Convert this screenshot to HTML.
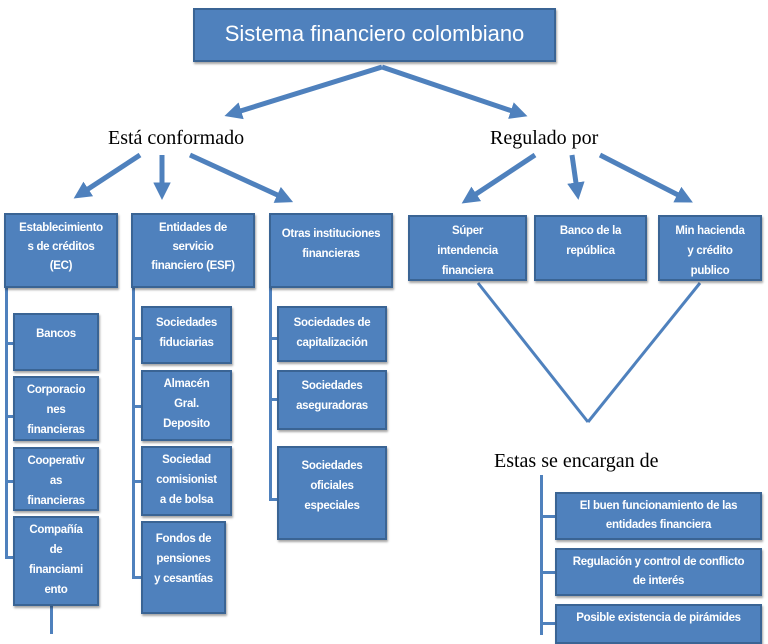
<!DOCTYPE html>
<html><head><meta charset="utf-8"><style>
body{margin:0;width:768px;height:630px;background:#fff;position:relative;overflow:hidden;font-family:"Liberation Sans",sans-serif}
.b{position:absolute;background:#4f81bd;border:2px solid #3a6494;box-sizing:border-box;color:#fff;text-align:center;font-size:11.5px;font-weight:bold;line-height:19px;padding-top:4px;box-shadow:1px 2px 2px rgba(0,0,0,.35);white-space:nowrap;overflow:hidden;letter-spacing:-0.3px}
.t{position:absolute;font-family:"Liberation Serif",serif;font-size:20px;color:#000}
.l{position:absolute;background:#4f81bd}
svg{position:absolute;left:0;top:0}
</style></head><body>
<svg width="768" height="630">
<defs><marker id="a" markerWidth="3.5" markerHeight="3.5" refX="1.5" refY="1.75" orient="auto"><path d="M0,0 L3.5,1.75 L0,3.5 Z" fill="#4f81bd"/></marker></defs>
<g stroke="#4f81bd" stroke-width="5" fill="none" marker-end="url(#a)">
<line x1="382" y1="67" x2="234" y2="113"/>
<line x1="382" y1="67" x2="518" y2="113"/>
<line x1="140" y1="155" x2="82" y2="193"/>
<line x1="162" y1="155" x2="162" y2="190"/>
<line x1="190" y1="155" x2="284" y2="198"/>
<line x1="535" y1="155" x2="470" y2="198"/>
<line x1="572" y1="155" x2="577" y2="190"/>
<line x1="600" y1="155" x2="684" y2="198"/>
</g>
<g stroke="#4f81bd" stroke-width="3">
<line x1="478" y1="283" x2="588" y2="422"/>
<line x1="700" y1="283" x2="588" y2="422"/>
</g>
</svg>
<div class="b" style="left:193px;top:8px;width:363px;height:54px;font-size:22px;font-weight:normal;line-height:40px;letter-spacing:0">Sistema financiero colombiano</div>
<div class="t" style="left:108px;top:127px">Está conformado</div>
<div class="t" style="left:490px;top:127px">Regulado por</div>
<div class="t" style="left:494px;top:450px">Estas se encargan de</div>

<div class="l" style="left:5px;top:286px;width:3px;height:272px"></div>
<div class="l" style="left:132px;top:286px;width:3px;height:292px"></div>
<div class="l" style="left:269px;top:286px;width:3px;height:214px"></div>
<div class="l" style="left:50px;top:604px;width:3px;height:30px"></div>
<div class="l" style="left:540px;top:475px;width:3px;height:160px"></div>

<div class="l" style="left:5px;top:342px;width:9px;height:3px"></div>
<div class="l" style="left:5px;top:415px;width:9px;height:3px"></div>
<div class="l" style="left:5px;top:480px;width:9px;height:3px"></div>
<div class="l" style="left:5px;top:556px;width:9px;height:3px"></div>
<div class="l" style="left:132px;top:337px;width:10px;height:3px"></div>
<div class="l" style="left:132px;top:405px;width:10px;height:3px"></div>
<div class="l" style="left:132px;top:480px;width:10px;height:3px"></div>
<div class="l" style="left:132px;top:576px;width:10px;height:3px"></div>
<div class="l" style="left:269px;top:337px;width:9px;height:3px"></div>
<div class="l" style="left:269px;top:398px;width:9px;height:3px"></div>
<div class="l" style="left:269px;top:498px;width:9px;height:3px"></div>
<div class="l" style="left:540px;top:515px;width:16px;height:3px"></div>
<div class="l" style="left:540px;top:571px;width:16px;height:3px"></div>
<div class="l" style="left:540px;top:622px;width:16px;height:3px"></div>

<div class="b" style="left:4px;top:213px;width:114px;height:75px">Establecimiento<br>s de créditos<br>(EC)</div>
<div class="b" style="left:131px;top:213px;width:124px;height:75px">Entidades de<br>servicio<br>financiero (ESF)</div>
<div class="b" style="left:269px;top:213px;width:124px;height:75px;padding-top:9px;line-height:20px">Otras instituciones<br>financieras</div>
<div class="b" style="left:408px;top:215px;width:119px;height:66px;line-height:20px">Súper<br>intendencia<br>financiera</div>
<div class="b" style="left:534px;top:215px;width:113px;height:66px;line-height:20px">Banco de la<br>república</div>
<div class="b" style="left:658px;top:215px;width:104px;height:66px;line-height:20px">Min hacienda<br>y crédito<br>publico</div>

<div class="b" style="left:13px;top:313px;width:86px;height:58px;padding-top:10px">Bancos</div>
<div class="b" style="left:13px;top:376px;width:86px;height:65px;padding-top:2px;line-height:20px">Corporacio<br>nes<br>financieras</div>
<div class="b" style="left:13px;top:447px;width:86px;height:64px;padding-top:2px;line-height:20px">Cooperativ<br>as<br>financieras</div>
<div class="b" style="left:13px;top:516px;width:86px;height:90px;padding-top:2px;line-height:20px">Compañía<br>de<br>financiami<br>ento</div>

<div class="b" style="left:141px;top:306px;width:91px;height:58px;padding-top:5px;line-height:20px">Sociedades<br>fiduciarias</div>
<div class="b" style="left:141px;top:370px;width:91px;height:71px;padding-top:2px;line-height:20px">Almacén<br>Gral.<br>Deposito</div>
<div class="b" style="left:141px;top:446px;width:91px;height:70px;padding-top:2px;line-height:20px">Sociedad<br>comisionist<br>a de bolsa</div>
<div class="b" style="left:141px;top:521px;width:85px;height:93px;padding-top:6px;line-height:20px">Fondos de<br>pensiones<br>y cesantías</div>

<div class="b" style="left:277px;top:306px;width:110px;height:56px;padding-top:5px;line-height:20px">Sociedades de<br>capitalización</div>
<div class="b" style="left:277px;top:370px;width:110px;height:60px;padding-top:4px;line-height:20px">Sociedades<br>aseguradoras</div>
<div class="b" style="left:277px;top:446px;width:110px;height:94px;padding-top:8px;line-height:20px">Sociedades<br>oficiales<br>especiales</div>

<div class="b" style="left:555px;top:492px;width:207px;height:48px;padding-top:3px">El buen funcionamiento de las<br>entidades financiera</div>
<div class="b" style="left:555px;top:548px;width:207px;height:48px;padding-top:3px">Regulación y control de conflicto<br>de interés</div>
<div class="b" style="left:555px;top:604px;width:207px;height:40px;padding-top:3px">Posible existencia de pirámides</div>
</body></html>
